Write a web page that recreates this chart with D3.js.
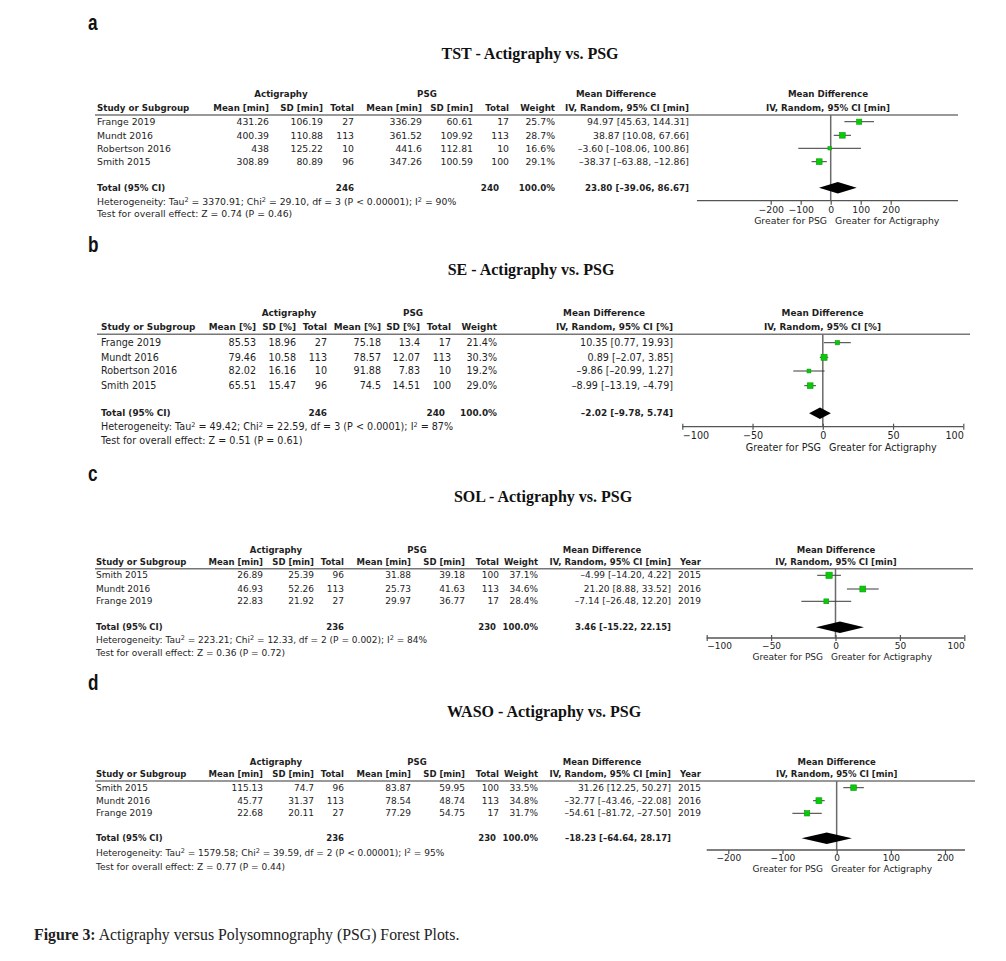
<!DOCTYPE html>
<html>
<head>
<meta charset="utf-8">
<script src="https://d3js.org/d3.v7.min.js"></script>
<style>
body { margin: 0; background: #fff; }
svg text { font-family: "DejaVu Sans", sans-serif; fill: #1e1e1e; }
svg text.hd { font-weight: bold; }
svg text.title { font-family: "Liberation Serif", serif; font-weight: bold; font-size: 16px; fill: #111; }
svg text.letter { font-family: "Liberation Sans", sans-serif; font-weight: bold; font-size: 22px; fill: #111; }
svg text.caption { font-family: "Liberation Serif", serif; font-size: 15.8px; fill: #222; }
</style>
</head>
<body>
<script>
// ---------- data: TST ----------
const tstStudy   = ["Frange 2019", "Mundt 2016", "Robertson 2016", "Smith 2015"];
const tstActMean = [431.26, 400.39, 438, 308.89];
const tstActSd   = [106.19, 110.88, 125.22, 80.89];
const tstActN    = [27, 113, 10, 96];
const tstPsgMean = [336.29, 361.52, 441.6, 347.26];
const tstPsgSd   = [60.61, 109.92, 112.81, 100.59];
const tstPsgN    = [17, 113, 10, 100];
const tstWeight  = [25.7, 28.7, 16.6, 29.1];
const tstMd      = [94.97, 38.87, -3.60, -38.37];
const tstLo      = [45.63, 10.08, -108.06, -63.88];
const tstHi      = [144.31, 67.66, 100.86, -12.86];
const tstTicks   = [-200, -100, 0, 100, 200];

// ---------- data: SE ----------
const seStudy   = ["Frange 2019", "Mundt 2016", "Robertson 2016", "Smith 2015"];
const seActMean = [85.53, 79.46, 82.02, 65.51];
const seActSd   = [18.96, 10.58, 16.16, 15.47];
const seActN    = [27, 113, 10, 96];
const sePsgMean = [75.18, 78.57, 91.88, 74.5];
const sePsgSd   = [13.4, 12.07, 7.83, 14.51];
const sePsgN    = [17, 113, 10, 100];
const seWeight  = [21.4, 30.3, 19.2, 29.0];
const seMd      = [10.35, 0.89, -9.86, -8.99];
const seLo      = [0.77, -2.07, -20.99, -13.19];
const seHi      = [19.93, 3.85, 1.27, -4.79];
const seTicks   = [-100, -50, 0, 50, 100];

// ---------- data: SOL ----------
const solStudy   = ["Smith 2015", "Mundt 2016", "Frange 2019"];
const solActMean = [26.89, 46.93, 22.83];
const solActSd   = [25.39, 52.26, 21.92];
const solActN    = [96, 113, 27];
const solPsgMean = [31.88, 25.73, 29.97];
const solPsgSd   = [39.18, 41.63, 36.77];
const solPsgN    = [100, 113, 17];
const solWeight  = [37.1, 34.6, 28.4];
const solMd      = [-4.99, 21.20, -7.14];
const solLo      = [-14.20, 8.88, -26.48];
const solHi      = [4.22, 33.52, 12.20];
const solYear    = [2015, 2016, 2019];
const solTicks   = [-100, -50, 0, 50, 100];

// ---------- data: WASO ----------
const wasoStudy   = ["Smith 2015", "Mundt 2016", "Frange 2019"];
const wasoActMean = [115.13, 45.77, 22.68];
const wasoActSd   = [74.7, 31.37, 20.11];
const wasoActN    = [96, 113, 27];
const wasoPsgMean = [83.87, 78.54, 77.29];
const wasoPsgSd   = [59.95, 48.74, 54.75];
const wasoPsgN    = [100, 113, 17];
const wasoWeight  = [33.5, 34.8, 31.7];
const wasoMd      = [31.26, -32.77, -54.61];
const wasoLo      = [12.25, -43.46, -81.72];
const wasoHi      = [50.27, -22.08, -27.50];
const wasoYear    = [2015, 2016, 2019];
const wasoTicks   = [-200, -100, 0, 100, 200];

// ---------- pooled results (TST, SE, SOL, WASO) ----------
const totActN  = [246, 246, 236, 236];
const totPsgN  = [240, 240, 230, 230];
const totMd    = [23.80, -2.02, 3.46, -18.23];
const totLo    = [-39.06, -9.78, -15.22, -64.64];
const totHi    = [86.67, 5.74, 22.15, 28.17];
const tau2     = ["3370.91", "49.42", "223.21", "1579.58"];
const chi2     = ["29.10", "22.59", "12.33", "39.59"];
const dfs      = [3, 3, 2, 2];
const pHet     = ["< 0.00001", "< 0.0001", "= 0.002", "< 0.00001"];
const i2       = [90, 87, 84, 95];
const zVal     = ["0.74", "0.51", "0.36", "0.77"];
const pZ       = ["0.46", "0.61", "0.72", "0.44"];

const titles  = ["TST - Actigraphy vs. PSG", "SE - Actigraphy vs. PSG", "SOL - Actigraphy vs. PSG", "WASO - Actigraphy vs. PSG"];
const letters = ["a", "b", "c", "d"];
const units   = ["min", "%", "min", "min"];

// ---------- layout (pixel positions per panel) ----------
const layouts = [
  { fs: 9.3, fsb: 8.7, letterY: 30, titleX: 530, titleY: 58.5, h1: 94.3, h2: 108.3, rule: 115, rows: [121.7, 135.3, 148.3, 161.7],
    total: 187.7, het: 201.5, test: 214, studyX: 97, actC: 281, psgC: 427, mdC: 616, plotC: 828,
    cols: [269, 323, 354, 422, 473, 509, 555, 689], totPsgX: 499, ruleX: [95, 958],
    tickRange: [770.7, 890.7], axisY: 200.7, axisExt: [697, 958], tick: [0, 4], endAlign: false,
    tickLabY: 209.3, greaterX: 831, greaterY: 221, k: 0.2 },
  { fs: 9.6, fsb: 8.9, letterY: 252, titleX: 531, titleY: 275, h1: 313.3, h2: 326.7, rule: 334.3, rows: [342.7, 357.3, 371, 385.7],
    total: 413.3, het: 427, test: 441, studyX: 101, actC: 289, psgC: 413, mdC: 604, plotC: 822.5,
    cols: [256, 296, 327, 381, 420, 451, 497, 673], totPsgX: 445, ruleX: [97, 970],
    tickRange: [682.3, 963.3], axisY: 426.7, axisExt: [682.3, 963.3], tick: [-3, 3], endAlign: true,
    tickLabY: 436, greaterX: 825, greaterY: 447.3, k: 0.2 },
  { fs: 9.0, fsb: 8.5, letterY: 481, titleX: 543, titleY: 502, h1: 549.7, h2: 562, rule: 568.7, rows: [575.3, 589, 601.3],
    total: 627.3, het: 640, test: 653, studyX: 96, actC: 276, psgC: 417, mdC: 602, plotC: 836,
    cols: [263, 314, 344, 411, 465, 499, 538, 671, 701], totPsgX: 496, ruleX: [95, 973],
    tickRange: [706.7, 964.3], axisY: 638, axisExt: [706.7, 964.3], tick: [-3, 3], endAlign: true,
    tickLabY: 646.3, greaterX: 827, greaterY: 657, k: 0.17 },
  { fs: 9.0, fsb: 8.5, letterY: 690, titleX: 544, titleY: 717, h1: 761.7, h2: 774, rule: 781, rows: [787.7, 800.7, 813.3],
    total: 838.3, het: 853, test: 867, studyX: 96, actC: 276, psgC: 417, mdC: 602, plotC: 836.7,
    cols: [263, 314, 344, 411, 465, 499, 538, 671, 701], totPsgX: 496, ruleX: [95, 975],
    tickRange: [728.3, 945], axisY: 850, axisExt: [706.7, 965], tick: [0, 4], endAlign: false,
    tickLabY: 858.3, greaterX: 827, greaterY: 869, k: 0.17 }
];

const panels = [
  { study: tstStudy, actMean: tstActMean, actSd: tstActSd, actN: tstActN, psgMean: tstPsgMean, psgSd: tstPsgSd,
    psgN: tstPsgN, weight: tstWeight, md: tstMd, lo: tstLo, hi: tstHi, year: null, ticks: tstTicks },
  { study: seStudy, actMean: seActMean, actSd: seActSd, actN: seActN, psgMean: sePsgMean, psgSd: sePsgSd,
    psgN: sePsgN, weight: seWeight, md: seMd, lo: seLo, hi: seHi, year: null, ticks: seTicks },
  { study: solStudy, actMean: solActMean, actSd: solActSd, actN: solActN, psgMean: solPsgMean, psgSd: solPsgSd,
    psgN: solPsgN, weight: solWeight, md: solMd, lo: solLo, hi: solHi, year: solYear, ticks: solTicks },
  { study: wasoStudy, actMean: wasoActMean, actSd: wasoActSd, actN: wasoActN, psgMean: wasoPsgMean, psgSd: wasoPsgSd,
    psgN: wasoPsgN, weight: wasoWeight, md: wasoMd, lo: wasoLo, hi: wasoHi, year: wasoYear, ticks: wasoTicks }
];

// table numbers use a short dash, as RevMan prints them
const f2 = v => d3.format(".2f")(v).replace("\u2212", "\u2013");
const f1 = d3.format(".1f");
const ciText = (m, l, h) => `${f2(m)} [${f2(l)}, ${f2(h)}]`;

const svg = d3.select("body").append("svg").attr("width", 1006).attr("height", 961);

function drawPanel(p, L, n) {
  const g = svg.append("g");
  const x = d3.scaleLinear().domain(d3.extent(p.ticks)).range(L.tickRange);
  const u = units[n];

  const txt = (xp, y, s, anchor, bold) => g.append("text").attr("x", xp).attr("y", y).attr("dy", "0.35em")
    .attr("text-anchor", anchor || "start").attr("class", bold ? "hd" : null)
    .attr("font-size", (bold ? L.fsb : L.fs) + "px").text(s);

  g.append("text").attr("class", "letter").attr("transform", `translate(88,${L.letterY}) scale(0.78,1)`).text(letters[n]);
  g.append("text").attr("class", "title").attr("x", L.titleX).attr("y", L.titleY).attr("text-anchor", "middle").text(titles[n]);

  // headers
  txt(L.actC, L.h1, "Actigraphy", "middle", true);
  txt(L.psgC, L.h1, "PSG", "middle", true);
  txt(L.mdC, L.h1, "Mean Difference", "middle", true);
  txt(L.plotC, L.h1, "Mean Difference", "middle", true);
  txt(L.plotC, L.h2, `IV, Random, 95% CI [${u}]`, "middle", true);
  txt(L.studyX, L.h2, "Study or Subgroup", "start", true);
  const heads = [`Mean [${u}]`, `SD [${u}]`, "Total", `Mean [${u}]`, `SD [${u}]`, "Total", "Weight", `IV, Random, 95% CI [${u}]`];
  if (p.year) heads.push("Year");
  heads.forEach((h, j) => txt(L.cols[j], L.h2, h, "end", true));

  g.append("line").attr("x1", L.ruleX[0]).attr("x2", L.ruleX[1]).attr("y1", L.rule).attr("y2", L.rule)
    .attr("stroke", "#777").attr("stroke-width", 1.4);

  // study rows
  p.study.forEach((s, i) => {
    const y = L.rows[i];
    txt(L.studyX, y, s);
    const cells = [p.actMean[i], p.actSd[i], p.actN[i], p.psgMean[i], p.psgSd[i], p.psgN[i],
      f1(p.weight[i]) + "%", ciText(p.md[i], p.lo[i], p.hi[i])];
    if (p.year) cells.push(p.year[i]);
    cells.forEach((c, j) => txt(L.cols[j], y, String(c), "end"));
  });

  // total row
  txt(L.studyX, L.total, "Total (95% CI)", "start", true);
  txt(L.cols[2], L.total, totActN[n], "end", true);
  txt(L.totPsgX, L.total, totPsgN[n], "end", true);
  txt(L.cols[6], L.total, "100.0%", "end", true);
  txt(L.cols[7], L.total, ciText(totMd[n], totLo[n], totHi[n]), "end", true);

  const het = txt(L.studyX, L.het, "Heterogeneity: Tau");
  const sup = t => het.append("tspan").attr("dy", "-3.2").attr("font-size", "6.5px").text(t);
  const back = t => het.append("tspan").attr("dy", "3.2").text(t);
  sup("2"); back(` = ${tau2[n]}; Chi`); sup("2");
  back(` = ${chi2[n]}, df = ${dfs[n]} (P ${pHet[n]}); I`); sup("2"); back(` = ${i2[n]}%`);
  txt(L.studyX, L.test, `Test for overall effect: Z = ${zVal[n]} (P = ${pZ[n]})`);

  // plot: zero line
  g.append("line").attr("x1", x(0)).attr("x2", x(0)).attr("y1", L.rule).attr("y2", L.axisY)
    .attr("stroke", "#6a6a6a").attr("stroke-width", 1.5);

  // confidence intervals
  g.selectAll(".ci").data(p.md).join("line").attr("class", "ci")
    .attr("x1", (d, i) => x(p.lo[i])).attr("x2", (d, i) => x(p.hi[i]))
    .attr("y1", (d, i) => L.rows[i]).attr("y2", (d, i) => L.rows[i])
    .attr("stroke", "#3a3a3a").attr("stroke-width", 1);

  // study squares, side proportional to weight
  g.selectAll(".sq").data(p.md).join("rect").attr("class", "sq")
    .attr("x", (d, i) => x(d) - L.k * p.weight[i] / 2)
    .attr("y", (d, i) => L.rows[i] - L.k * p.weight[i] / 2)
    .attr("width", (d, i) => L.k * p.weight[i])
    .attr("height", (d, i) => L.k * p.weight[i])
    .attr("fill", "#0bc80b").attr("stroke", "#08a008").attr("stroke-width", 0.6);

  // pooled diamond
  const hh = 5.8;
  g.append("path")
    .attr("d", d3.line()([[x(totLo[n]), L.total], [x(totMd[n]), L.total - hh], [x(totHi[n]), L.total], [x(totMd[n]), L.total + hh]]) + "Z")
    .attr("fill", "#000");

  // axis
  g.append("line").attr("x1", L.axisExt[0]).attr("x2", L.axisExt[1]).attr("y1", L.axisY).attr("y2", L.axisY)
    .attr("stroke", "#555").attr("stroke-width", 1.3);
  const ax = g.append("g").attr("transform", `translate(0,${L.axisY})`)
    .call(d3.axisBottom(x).tickValues(p.ticks).tickSizeOuter(0).tickFormat(d3.format("d")));
  ax.select(".domain").remove();
  ax.attr("font-family", null).attr("font-size", null);
  ax.selectAll(".tick line").attr("y1", L.tick[0]).attr("y2", L.tick[1]).attr("stroke", "#555").attr("stroke-width", 1.2);
  ax.selectAll(".tick text").attr("y", L.tickLabY - L.axisY).attr("dy", "0.35em")
    .attr("font-size", L.fs + "px").attr("fill", null);
  if (L.endAlign) {
    const tt = ax.selectAll(".tick text").nodes();
    d3.select(tt[0]).attr("text-anchor", "start");
    d3.select(tt[tt.length - 1]).attr("text-anchor", "end");
  }
  txt(L.greaterX - 4, L.greaterY, "Greater for PSG", "end");
  txt(L.greaterX + 4, L.greaterY, "Greater for Actigraphy", "start");
}

panels.forEach((p, n) => drawPanel(p, layouts[n], n));

// caption
const cap = svg.append("text").attr("class", "caption").attr("x", 34).attr("y", 940);
cap.append("tspan").attr("font-weight", "bold").text("Figure 3:");
cap.append("tspan").text(" Actigraphy versus Polysomnography (PSG) Forest Plots.");
</script>
</body>
</html>
